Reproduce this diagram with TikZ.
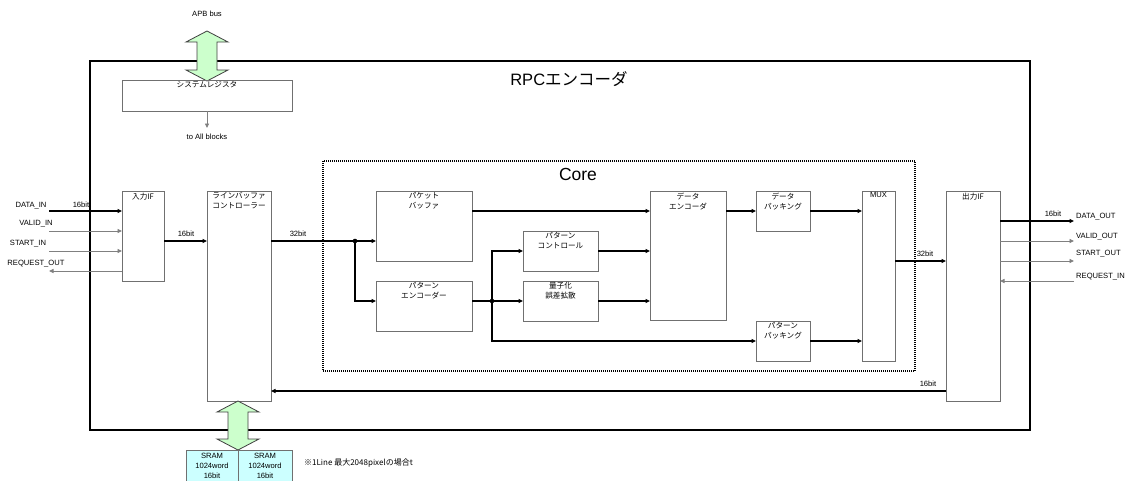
\documentclass[tikz,border=0pt]{standalone}
\usepackage{fontspec}
\setmainfont{Liberation Sans}
\newfontfamily\jp{Noto Sans CJK JP}
\usetikzlibrary{arrows.meta}
\definecolor{boxgray}{HTML}{707070}
\definecolor{busgreen}{HTML}{CCFFCC}
\definecolor{sramcyan}{HTML}{CCFFFF}
\tikzset{
  blk/.style={draw=boxgray, line width=0.8pt, anchor=north west, inner sep=0pt, outer sep=0pt},
  blbl/.style={anchor=north, inner sep=0pt, yshift=-1.5pt, align=center, font=\fontsize{7.6}{10}\selectfont\jp},
  sm/.style={font=\fontsize{7.6}{8}\selectfont, inner sep=0pt},
  jsm/.style={font=\fontsize{8}{9}\selectfont\jp, inner sep=0pt},
  big/.style={font=\fontsize{16.5}{18}\selectfont, inner sep=0pt},
  thk/.style={line width=1.5pt, black},
  thn/.style={line width=0.9pt, black!50},
  arr/.style={-{Triangle[length=4.5pt,width=4pt]}},
  bus/.style={draw=black!75, line width=0.8pt, line join=miter},
  dot/.style={draw=black, line width=1.1pt, dash pattern=on 1pt off 1pt, anchor=north west, inner sep=0pt, outer sep=0pt},
}
\newcommand{\bx}[6]{\node[blk, minimum width=#4, minimum height=#5, label={[blbl]north:{#6}}] (#1) at (#2,#3) {};}
\begin{document}
\begin{tikzpicture}[x=1pt,y=-1pt]
\useasboundingbox (0,0) rectangle (1128,480);
% outer encoder box
\node[draw=black, line width=2.3pt, anchor=north west, inner sep=0pt, outer sep=0pt, minimum width=940, minimum height=369] (enc) at (90,61) {};
\node[big] (enctitle) at (569,79) {RPC{\jp エンコーダ}};
% core box
\node[dot, minimum width=592, minimum height=210] (core) at (323,161) {};
\node[big, font=\fontsize{17.5}{19}\selectfont] (coretitle) at (578,174) {Core};
% APB bus
\node[sm] (apb) at (207,14) {APB bus};
\draw[bus, fill=busgreen] (207,31) -- (228,42) -- (217,42) -- (217,70) -- (228,70) -- (207,81) -- (186,70) -- (197,70) -- (197,42) -- (186,42) -- cycle;
% blocks
\bx{sys}{122}{80}{170}{31}{システムレジスタ}
\bx{inif}{122}{191}{42}{90}{入力IF}
\bx{lbc}{207}{191}{64}{210}{ラインバッファ\\コントローラー}
\bx{pb}{376}{191}{96}{70}{パケット\\バッファ}
\bx{pe}{376}{281}{96}{50}{パターン\\エンコーダー}
\bx{pc}{523}{231}{75}{40}{パターン\\コントロール}
\bx{qz}{523}{281}{75}{40}{量子化\\誤差拡散}
\bx{de}{650}{191}{76}{129}{データ\\エンコーダ}
\bx{dpk}{756}{191}{54}{40}{データ\\パッキング}
\bx{ppk}{756}{321}{54}{40}{パターン\\パッキング}
\node[blk, minimum width=33, minimum height=170, label={[blbl, font=\fontsize{7.6}{8}\selectfont]north:{MUX}}] (mux) at (862,191) {};
\bx{oif}{946}{191}{54}{210}{出力IF}
% to all blocks
\coordinate (toall) at (207,128);
\draw[thn, arr] (sys.south) -- (toall);
\node[sm] (toalll) at (207,137) {to All blocks};
% inputs
\coordinate (din) at (49,211);
\coordinate (vin) at (49,231);
\coordinate (sin) at (49,251);
\coordinate (rout) at (49,271);
\node[sm] (ldin) at (31,206) {DATA\_IN};
\node[sm] (lvin) at (36,224) {VALID\_IN};
\node[sm] (lsin) at (28,244) {START\_IN};
\node[sm] (lrout) at (36,264) {REQUEST\_OUT};
\draw[thk, arr] (din) -- (din -| inif.west);
\node[sm] (b16a) at (81,205) {16bit};
\draw[thn, arr] (vin) -- (vin -| inif.west);
\draw[thn, arr] (sin) -- (sin -| inif.west);
\draw[thn, arr] (rout -| inif.west) -- (rout);
% 入力IF -> line buffer
\draw[thk, arr] ([yshift=-50pt]inif.north east) -- ([yshift=-50pt]lbc.north west);
\node[sm] (b16b) at (186,234) {16bit};
% line buffer -> core
\coordinate (j1) at (355,241);
\draw[thk] ([yshift=-50pt]lbc.north east) -- (j1);
\node[sm] (b32a) at (298,234) {32bit};
\fill (j1) circle (2.3pt);
\draw[thk, arr] (j1) -- (j1 -| pb.west);
\coordinate (j2) at (492,301);
\draw[thk, arr] (j1) |- (pe.west |- j2);
\draw[thk] (pe.east |- j2) -- (j2);
\fill (j2) circle (2.3pt);
\draw[thk, arr] (j2) -- (j2 -| qz.west);
\draw[thk, arr] (j2) |- (pc.west);
\draw[thk, arr] (j2) |- (ppk.west);
\draw[thk, arr] ([yshift=-20pt]pb.north east) -- ([yshift=-20pt]de.north west);
\draw[thk, arr] (pc.east) -- (pc.east -| de.west);
\draw[thk, arr] (qz.east) -- (qz.east -| de.west);
\draw[thk, arr] (dpk.west -| de.east) -- (dpk.west);
\draw[thk, arr] (dpk.east) -- (dpk.east -| mux.west);
\draw[thk, arr] (ppk.east) -- (ppk.east -| mux.west);
\draw[thk, arr] ([yshift=-70pt]mux.north east) -- ([yshift=-70pt]oif.north west);
\node[sm] (b32b) at (925,254) {32bit};
% feedback
\draw[thk, arr] ([yshift=10pt]oif.south west) -- ([yshift=10pt]lbc.south east);
\node[sm] (b16c) at (928,384) {16bit};
% outputs
\coordinate (dout) at (1074,221);
\coordinate (vout) at (1074,241);
\coordinate (sout) at (1074,261);
\coordinate (rin) at (1074,281);
\draw[thk, arr] (dout -| oif.east) -- (dout);
\draw[thn, arr] (vout -| oif.east) -- (vout);
\draw[thn, arr] (sout -| oif.east) -- (sout);
\draw[thn, arr] (rin) -- (rin -| oif.east);
\node[sm] (b16d) at (1053,214) {16bit};
\node[sm, anchor=west] (ldout) at (1076,217) {DATA\_OUT};
\node[sm, anchor=west] (lvout) at (1076,237) {VALID\_OUT};
\node[sm, anchor=west] (lsout) at (1076,254) {START\_OUT};
\node[sm, anchor=west] (lrin) at (1076,277) {REQUEST\_IN};
% SRAM bus
\draw[bus, fill=busgreen] (238,401) -- (259,412) -- (248,412) -- (248,439) -- (259,439) -- (238,450) -- (217,439) -- (228,439) -- (228,412) -- (217,412) -- cycle;
\node[blk, fill=sramcyan, minimum width=52, minimum height=33] (sram1) at (186,450) {};
\node[blk, fill=sramcyan, minimum width=54, minimum height=33] (sram2) at (238,450) {};
\node[sm, align=center, font=\fontsize{7.6}{10}\selectfont, anchor=north] (sram1t) at (212,452.5) {SRAM\\1024word\\16bit};
\node[sm, align=center, font=\fontsize{7.6}{10}\selectfont, anchor=north] (sram2t) at (265,452.5) {SRAM\\1024word\\16bit};
\node[jsm, anchor=west] (note) at (304,463) {※1Line 最大2048pixelの場合t};
\end{tikzpicture}
\end{document}
